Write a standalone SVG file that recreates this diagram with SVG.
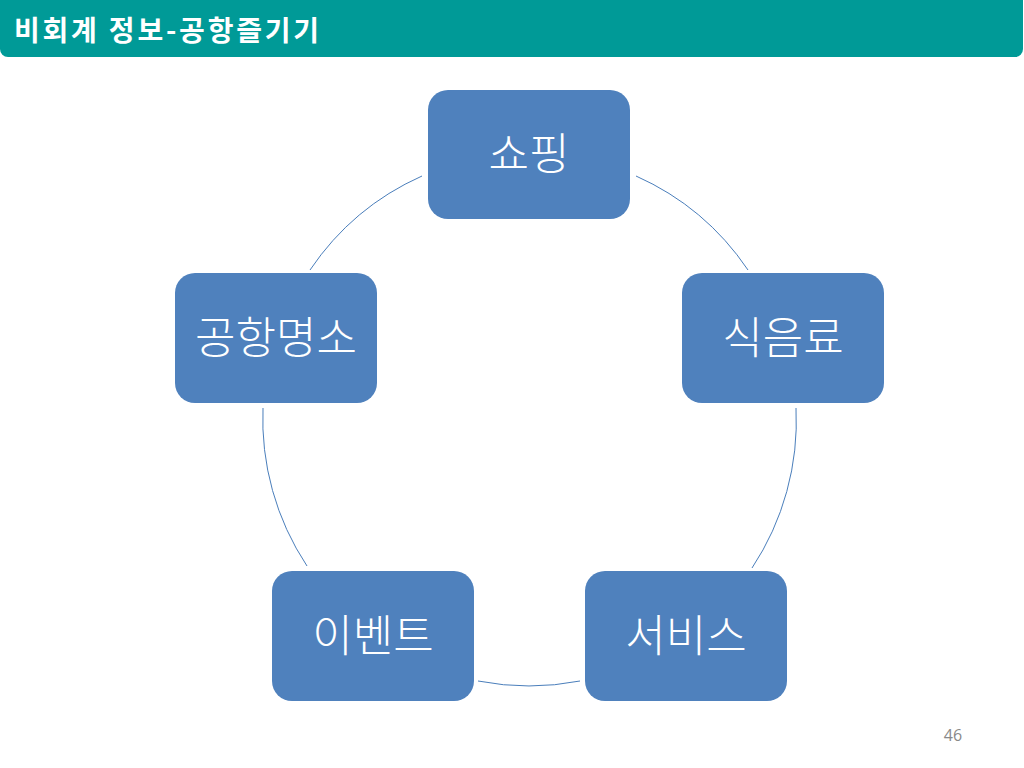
<svg xmlns="http://www.w3.org/2000/svg" width="1024" height="768" viewBox="0 0 1024 768">
<style>
.box{fill:#4f81bd;}
.lbl{fill:#ffffff;font-family:"Noto Sans CJK KR","Noto Sans",sans-serif;font-size:44px;font-weight:300;text-anchor:middle;}
.arc{fill:none;stroke:#4a7ebb;stroke-width:1;}
</style>
<rect width="1024" height="768" fill="#ffffff"/>
<g id="header">
<rect x="0" y="-20" width="1023" height="77" rx="8" fill="#009a97"/>
<text x="14" y="41" fill="#ffffff" font-family="Noto Sans CJK KR, sans-serif" font-size="28" font-weight="bold" letter-spacing="2.8">비회계 정보-공항즐기기</text>
</g>
<g id="connectors">
<path class="arc" d="M636,176 A266,266 0 0 1 748,270"/>
<path class="arc" d="M796,408 A266,266 0 0 1 752,568"/>
<path class="arc" d="M580,681 A266,266 0 0 1 478,681"/>
<path class="arc" d="M307,566 A266,266 0 0 1 263,408"/>
<path class="arc" d="M310,270 A266,266 0 0 1 422,176"/>
</g>
<g id="node-shopping">
<rect class="box" x="428" y="90" width="202" height="129" rx="20"/>
<text class="lbl" x="529" y="170">쇼핑</text>
</g>
<g id="node-food">
<rect class="box" x="682" y="273" width="202" height="130" rx="20"/>
<text class="lbl" x="783" y="354">식음료</text>
</g>
<g id="node-service">
<rect class="box" x="585" y="571" width="202" height="130" rx="20"/>
<text class="lbl" x="686" y="652">서비스</text>
</g>
<g id="node-event">
<rect class="box" x="272" y="571" width="202" height="130" rx="20"/>
<text class="lbl" x="373" y="652">이벤트</text>
</g>
<g id="node-attraction">
<rect class="box" x="175" y="273" width="202" height="130" rx="20"/>
<text class="lbl" x="276" y="354">공항명소</text>
</g>
<text x="953" y="741" fill="#898989" font-family="Open Sans, sans-serif" font-size="16" text-anchor="middle">46</text>
</svg>
